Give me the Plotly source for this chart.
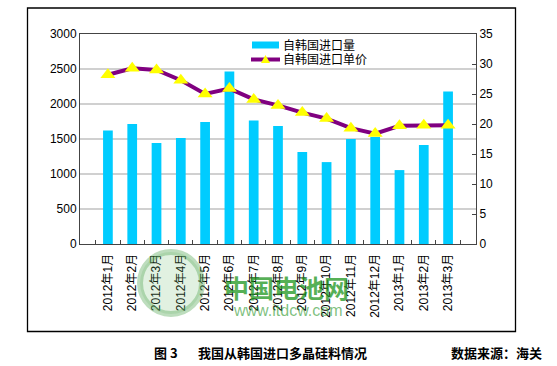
import plotly.graph_objects as go

months = ["2012年1月", "2012年2月", "2012年3月", "2012年4月", "2012年5月", "2012年6月",
          "2012年7月", "2012年8月", "2012年9月", "2012年10月", "2012年11月", "2012年12月",
          "2013年1月", "2013年2月", "2013年3月"]
volume = [1620, 1715, 1443, 1514, 1744, 2465, 1763, 1686, 1314, 1170, 1500, 1530, 1056, 1414, 2178]
price = [28.2, 29.3, 29.0, 27.3, 25.0, 25.9, 24.1, 23.1, 21.9, 20.9, 19.3, 18.4, 19.7, 19.8, 19.8]

name_vol = "自韩国进口量"
name_price = "自韩国进口单价"

FONT = "Liberation Sans, Arial, Noto Sans CJK SC, sans-serif"
BOLD_CJK = "Noto Sans CJK SC, sans-serif"

fig = go.Figure()
fig.add_trace(go.Bar(x=months, y=volume, name=name_vol, marker=dict(color="#00CCFF", line=dict(width=0)),
                     width=0.4, yaxis="y"))
fig.add_trace(go.Scatter(x=months, y=price, name=name_price, mode="lines+markers", yaxis="y2",
                         line=dict(color="#800080", width=4),
                         marker=dict(symbol="triangle-up", size=13, color="#FFFF00", line=dict(width=0))))

W, H = 557, 366
L, R, T, B = 80, 476, 34, 244
pw, ph = R - L, B - T


def px(x):
    return (x - L) / pw


def py(y):
    return (B - y) / ph


shapes = []
# outer frame
shapes.append(dict(type="rect", xref="paper", yref="paper", x0=px(27.5), x1=px(515.5), y0=py(331.5), y1=py(8),
                   line=dict(color="black", width=1.3), fillcolor="rgba(0,0,0,0)", layer="below"))
# legend swatches
shapes.append(dict(type="rect", xref="paper", yref="paper", x0=px(252), x1=px(279), y0=py(48.5), y1=py(41.5),
                   line=dict(width=0), fillcolor="#00CCFF"))
shapes.append(dict(type="line", xref="paper", yref="paper", x0=px(251), x1=px(280), y0=py(59.5), y1=py(59.5),
                   line=dict(color="#800080", width=4)))
shapes.append(dict(type="path", xref="paper", yref="paper",
                   path=f"M {px(261)} {py(63)} L {px(270)} {py(63)} L {px(265.5)} {py(55)} Z",
                   line=dict(width=0), fillcolor="#FFFF00"))
# watermark circle
shapes.append(dict(type="circle", xref="paper", yref="paper", x0=px(140), x1=px(202), y0=py(314), y1=py(252),
                   line=dict(color="rgba(90,170,90,0.4)", width=6), fillcolor="rgba(120,190,120,0.22)"))

annotations = [
    dict(text=name_vol, xref="paper", yref="paper", x=px(281), y=py(45), xanchor="left", yanchor="middle",
         showarrow=False, font=dict(family=FONT, size=12, color="black")),
    dict(text=name_price, xref="paper", yref="paper", x=px(281), y=py(59.5), xanchor="left", yanchor="middle",
         showarrow=False, font=dict(family=FONT, size=12, color="black")),
    dict(text="<b>中国电池网</b>", xref="paper", yref="paper", x=px(286), y=py(287), xanchor="center", yanchor="middle",
         showarrow=False, font=dict(family=BOLD_CJK, size=25, color="rgba(30,150,30,0.75)")),
    dict(text="www.itdcw.com", xref="paper", yref="paper", x=px(287), y=py(310), xanchor="center", yanchor="middle",
         showarrow=False, font=dict(family=FONT, size=16, color="rgba(40,150,40,0.6)")),
    dict(text="<b>图 3</b>", xref="paper", yref="paper", x=px(152), y=py(352), xanchor="left", yanchor="middle",
         showarrow=False, font=dict(family=BOLD_CJK, size=13, color="black")),
    dict(text="<b>我国从韩国进口多晶硅料情况</b>", xref="paper", yref="paper", x=px(196), y=py(352), xanchor="left",
         yanchor="middle", showarrow=False, font=dict(family=BOLD_CJK, size=13, color="black")),
    dict(text="<b>数据来源：海关</b>", xref="paper", yref="paper", x=px(449), y=py(352), xanchor="left",
         yanchor="middle", showarrow=False, font=dict(family=BOLD_CJK, size=13, color="black")),
]

fig.update_layout(
    width=W, height=H,
    margin=dict(l=L, r=W - R, t=T, b=H - B),
    paper_bgcolor="white", plot_bgcolor="white",
    showlegend=False,
    font=dict(family=FONT, size=12, color="black"),
    xaxis=dict(type="category", showline=True, linecolor="#444", linewidth=1, mirror=True,
               ticks="inside", ticklen=4, tickcolor="#444", tickson="boundaries",
               tickangle=-90, tickfont=dict(family=FONT, size=12), showgrid=False,
               ticklabelstandoff=4),
    yaxis=dict(range=[0, 3000], dtick=500, showline=True, linecolor="#444", linewidth=1,
               showgrid=True, gridcolor="#d0d0d0", gridwidth=1.5, ticks="", zeroline=False,
               tickfont=dict(family=FONT, size=12)),
    yaxis2=dict(range=[0, 35], dtick=5, overlaying="y", side="right", showline=True, linecolor="#444",
                linewidth=1, showgrid=False, ticks="inside", ticklen=4, tickcolor="#444", zeroline=False,
                tickfont=dict(family=FONT, size=12)),
    bargap=0.6,
    shapes=shapes,
    annotations=annotations,
)

fig.write_html("out.html", config={"displayModeBar": False},
               post_script="document.body.style.margin='0px';document.body.style.overflow='hidden';")
